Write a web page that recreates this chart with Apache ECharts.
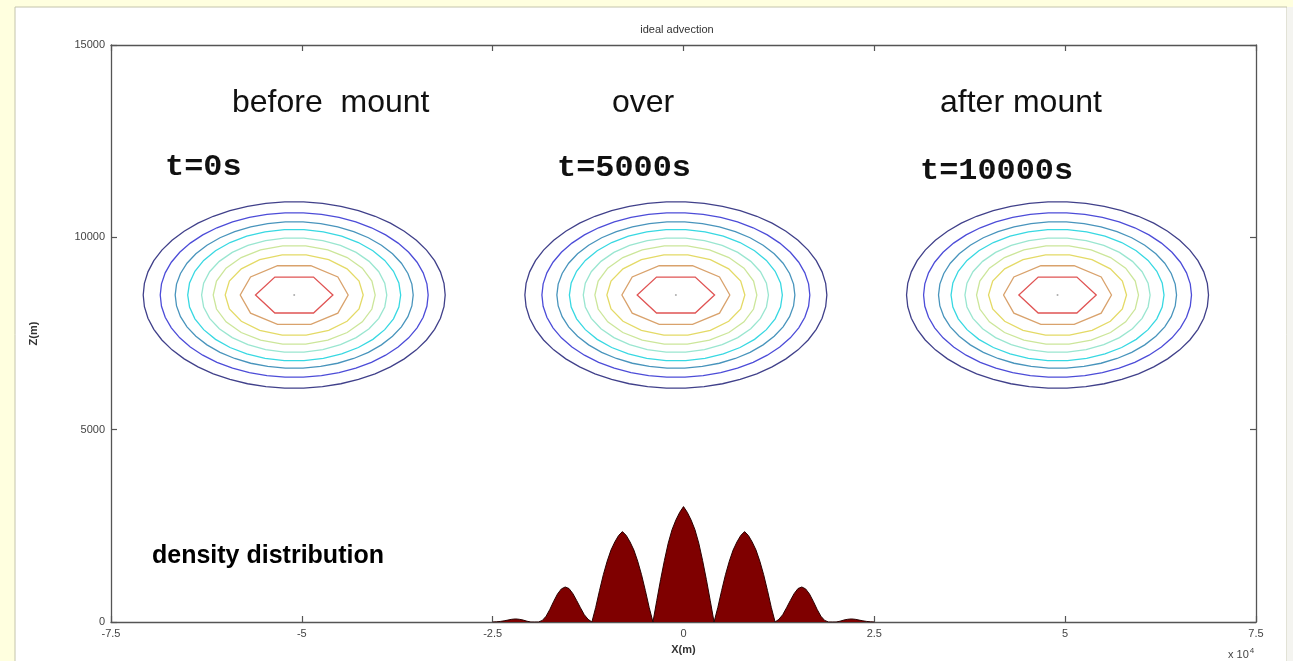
<!DOCTYPE html>
<html><head><meta charset="utf-8">
<script src="https://cdn.jsdelivr.net/npm/echarts@6/dist/echarts.min.js"></script>
<style>html,body{margin:0;padding:0;background:#FFFFDF}#c{width:1293px;height:661px}</style>
</head><body><div id="c"></div>
<script>
// ---- data ----
const xTickValues = [-75000, -50000, -25000, 0, 25000, 50000, 75000];
const yTickValues = [0, 5000, 10000, 15000];
const ringRadiusX = [19780, 17550, 15590, 13950, 12130, 10610, 9040, 7070, 5070];
const ringRadiusZ = [2425, 2140, 1905, 1710, 1490, 1290, 1060, 800, 540];
const centerX = [-51000, -1000, 49000];
const centerZ = [8500, 8500, 8500];
const timeLabels = ['t=0s', 't=5000s', 't=10000s'];
const phaseLabels = ['before  mount', 'over', 'after mount'];
const mountainX = [
  -25000,-24500,-24000,-23500,-23000,-22500,-22000,-21500,-21000,-20500,
  -20000,-19500,-19000,-18500,-18000,-17500,-17000,-16500,-16000,-15500,
  -15000,-14500,-14000,-13500,-13000,-12500,-12000,-11500,-11000,-10500,
  -10000,-9500,-9000,-8500,-8000,-7500,-7000,-6500,-6000,-5500,
  -5000,-4500,-4000,-3500,-3000,-2500,-2000,-1500,-1000,-500,
  0,500,1000,1500,2000,2500,3000,3500,4000,4500,
  5000,5500,6000,6500,7000,7500,8000,8500,9000,9500,
  10000,10500,11000,11500,12000,12500,13000,13500,14000,14500,
  15000,15500,16000,16500,17000,17500,18000,18500,19000,19500,
  20000,20500,21000,21500,22000,22500,23000,23500,24000,24500,25000];
const mountainH = [
  0,5,15,30,50,70,80,70,50,20,
  0,0,0,40,150,330,540,730,860,910,
  870,740,560,370,190,70,0,380,820,1230,
  1580,1870,2080,2250,2350,2250,2080,1870,1580,1230,
  820,380,0,560,1100,1600,2050,2400,2650,2850,
  3000,2850,2650,2400,2050,1600,1100,560,0,380,
  820,1230,1580,1870,2080,2250,2350,2250,2080,1870,
  1580,1230,820,380,0,70,190,370,560,740,
  870,910,860,730,540,330,150,40,0,0,
  0,20,50,70,80,70,50,30,15,5,0];

// ---- styles ----
const ringColors = ['#40408a','#4c4cd8','#4894bc','#38d8e2','#9ae6d0','#cce69a','#e4da66','#d9a26c','#e05454'];
const ringSegments = [50, 46, 42, 34, 30, 22, 18, 10, 6];

const ringData = [];
centerX.forEach((cx, c) => {
  ringRadiusX.forEach((rx, r) => ringData.push([cx, centerZ[c], rx, ringRadiusZ[r], r]));
});

const axisCommon = {
  type: 'value',
  axisLine: {show: true, onZero: false, lineStyle: {color: '#555', width: 1.3}},
  axisTick: {show: true, inside: true, length: 6, lineStyle: {color: '#555', width: 1.2}},
  splitLine: {show: false}
};

const chart = echarts.init(document.getElementById('c'), null, {renderer: 'canvas'});
chart.setOption({
  backgroundColor: '#FFFFDF',
  animation: false,
  grid: {left: 111, top: 45, width: 1145, height: 577},
  xAxis: [
    Object.assign({}, axisCommon, {
      min: xTickValues[0], max: xTickValues[xTickValues.length - 1], interval: 25000,
      axisLabel: {formatter: v => String(v / 10000), color: '#444', fontSize: 11, margin: 6, fontFamily: 'Liberation Sans'},
      name: 'X(m)', nameLocation: 'middle', nameGap: 22,
      nameTextStyle: {fontWeight: 'bold', fontSize: 11, color: '#333', fontFamily: 'Liberation Sans'}
    }),
    Object.assign({}, axisCommon, {
      position: 'top', min: xTickValues[0], max: xTickValues[xTickValues.length - 1], interval: 25000,
      axisLabel: {show: false}
    })
  ],
  yAxis: [
    Object.assign({}, axisCommon, {
      min: yTickValues[0], max: yTickValues[yTickValues.length - 1], interval: 5000,
      axisLabel: {formatter: v => String(v), color: '#444', fontSize: 11, margin: 6, fontFamily: 'Liberation Sans'},
      name: 'Z(m)', nameLocation: 'middle', nameGap: 72, nameRotate: 90,
      nameTextStyle: {fontWeight: 'bold', fontSize: 11, color: '#333', fontFamily: 'Liberation Sans'}
    }),
    Object.assign({}, axisCommon, {
      position: 'right', min: yTickValues[0], max: yTickValues[yTickValues.length - 1], interval: 5000,
      axisLabel: {show: false}
    })
  ],
  series: [
    {
      type: 'custom',
      data: ringData,
      renderItem: function (params, api) {
        const cx = api.value(0), cz = api.value(1), rx = api.value(2), rz = api.value(3), r = api.value(4);
        const n = ringSegments[r];
        const pts = [];
        for (let k = 0; k < n; k++) {
          const t = 2 * Math.PI * k / n;
          pts.push(api.coord([cx + rx * Math.cos(t), cz + rz * Math.sin(t)]));
        }
        return {type: 'polygon', shape: {points: pts},
          style: {fill: 'none', stroke: ringColors[r], lineWidth: 1.3}};
      },
      z: 3
    },
    {
      type: 'scatter',
      data: centerX.map((x, i) => [x, centerZ[i]]),
      symbolSize: 2,
      itemStyle: {color: '#999'},
      z: 3
    },
    {
      type: 'line',
      data: mountainX.map((x, i) => [x, mountainH[i]]),
      symbol: 'none',
      lineStyle: {color: '#2a0000', width: 1},
      areaStyle: {color: '#7f0000', opacity: 1},
      z: 4
    }
  ],
  graphic: [
    {type: 'rect', z: -100, shape: {x: 15, y: 7, width: 1272, height: 660},
      style: {fill: '#ffffff', stroke: '#c4c4ac', lineWidth: 1}},
    {type: 'rect', z: -100, shape: {x: 1287, y: 7, width: 6, height: 660},
      style: {fill: '#f4f4f0'}},
    {type: 'text', z: 100, x: 677, y: 30, style: {text: 'ideal advection', font: '11px "Liberation Sans"', fill: '#333', textAlign: 'center', textVerticalAlign: 'middle'}},
    {type: 'text', z: 100, x: 232, y: 103, style: {text: phaseLabels[0], font: '32px "Liberation Sans"', fill: '#111', textAlign: 'left', textVerticalAlign: 'middle'}},
    {type: 'text', z: 100, x: 612, y: 103, style: {text: phaseLabels[1], font: '32px "Liberation Sans"', fill: '#111', textAlign: 'left', textVerticalAlign: 'middle'}},
    {type: 'text', z: 100, x: 940, y: 103, style: {text: phaseLabels[2], font: '32px "Liberation Sans"', fill: '#111', textAlign: 'left', textVerticalAlign: 'middle'}},
    {type: 'text', z: 100, x: 165, y: 168, scaleX: 1.1, style: {text: timeLabels[0], font: 'bold 29px "Liberation Mono"', fill: '#111', textAlign: 'left', textVerticalAlign: 'middle'}},
    {type: 'text', z: 100, x: 557, y: 169, scaleX: 1.1, style: {text: timeLabels[1], font: 'bold 29px "Liberation Mono"', fill: '#111', textAlign: 'left', textVerticalAlign: 'middle'}},
    {type: 'text', z: 100, x: 920, y: 172, scaleX: 1.1, style: {text: timeLabels[2], font: 'bold 29px "Liberation Mono"', fill: '#111', textAlign: 'left', textVerticalAlign: 'middle'}},
    {type: 'text', z: 100, x: 152, y: 556, style: {text: 'density distribution', font: 'bold 25px "Liberation Sans"', fill: '#000', textAlign: 'left', textVerticalAlign: 'middle'}},
    {type: 'text', z: 100, x: 1228, y: 655, style: {
      text: '{a|x 10}{b|4}', textAlign: 'left', textVerticalAlign: 'middle',
      rich: {a: {font: '11px "Liberation Sans"', fill: '#444', color: '#444'}, b: {font: '8px "Liberation Sans"', fill: '#444', color: '#444', verticalAlign: 'top', padding: [0, 0, 8, 1]}}
    }}
  ]
});
</script>
</body></html>
